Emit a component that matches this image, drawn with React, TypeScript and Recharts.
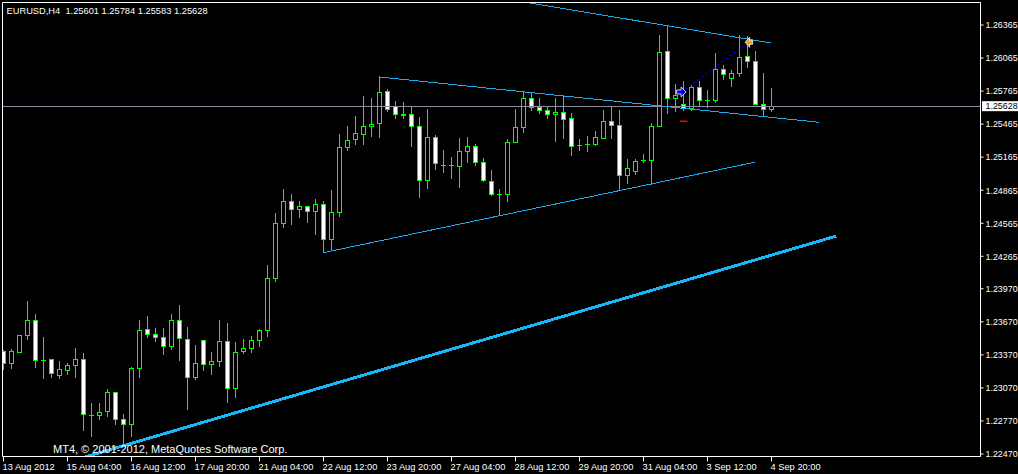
import React from 'react';
import {
  ComposedChart,
  Bar,
  XAxis,
  YAxis,
  ReferenceLine,
  ReferenceDot,
  ReferenceArea,
} from 'recharts';

const symbol = 'EURUSD';
const timeframe = 'H4';

const opens = [
  1.23399, 1.23294, 1.23396, 1.23544, 1.23684, 1.23321, 1.2333, 1.23181, 1.23226, 1.23272,
  1.2333, 1.22821, 1.22821, 1.22854, 1.2303, 1.22785, 1.22736, 1.23244, 1.23602, 1.23557,
  1.2353, 1.23444, 1.23684, 1.23511, 1.23163, 1.23502, 1.23281, 1.23308, 1.23493, 1.23063,
  1.23399, 1.23426, 1.23502, 1.23593, 1.24065, 1.24565, 1.24764, 1.24692, 1.24719, 1.2467,
  1.24737, 1.24416, 1.24665, 1.25257, 1.25327, 1.25373, 1.25445, 1.25473, 1.25763, 1.25623,
  1.25554, 1.25554, 1.25445, 1.24955, 1.25345, 1.25085, 1.25085, 1.25079, 1.25218, 1.25264,
  1.25119, 1.24946, 1.24828, 1.24824, 1.25296, 1.25433, 1.257, 1.25618, 1.25593, 1.25554,
  1.25572, 1.25512, 1.25269, 1.25278, 1.25278, 1.25339, 1.25493, 1.25454, 1.24997, 1.25033,
  1.25133, 1.25133, 1.25442, 1.26126, 1.25696, 1.25645, 1.25605, 1.25799, 1.25681, 1.25678,
  1.25963, 1.25878, 1.25927, 1.26081, 1.26036, 1.25645, 1.25601,
];

const highs = [
  1.23414, 1.23423, 1.23548, 1.2385, 1.23741, 1.23532, 1.2333, 1.23314, 1.23294, 1.23432,
  1.23378, 1.22924, 1.22924, 1.23051, 1.2303, 1.22824, 1.23257, 1.23678, 1.23714, 1.23605,
  1.23605, 1.23741, 1.23814, 1.23614, 1.23451, 1.23502, 1.23387, 1.23678, 1.23659, 1.23478,
  1.23505, 1.23541, 1.23596, 1.24177, 1.24649, 1.24867, 1.24822, 1.24767, 1.24719, 1.24785,
  1.24758, 1.24864, 1.25375, 1.25439, 1.2553, 1.2572, 1.25702, 1.25893, 1.25781, 1.25672,
  1.25657, 1.25627, 1.25521, 1.25602, 1.25364, 1.25228, 1.25158, 1.25336, 1.25345, 1.25282,
  1.25155, 1.25046, 1.24873, 1.25327, 1.25602, 1.25757, 1.2575, 1.25702, 1.25618, 1.25702,
  1.25727, 1.25563, 1.25321, 1.25357, 1.254, 1.25593, 1.25623, 1.25593, 1.25148, 1.25148,
  1.25191, 1.25475, 1.26274, 1.26356, 1.25827, 1.25848, 1.25818, 1.25848, 1.25766, 1.26102,
  1.25999, 1.2595, 1.26274, 1.26265, 1.2612, 1.25929, 1.25784,
];

const lows = [
  1.23233, 1.23242, 1.23387, 1.23514, 1.23251, 1.23151, 1.2316, 1.23151, 1.23196, 1.23169,
  1.22679, 1.22627, 1.22779, 1.22806, 1.22736, 1.22552, 1.22627, 1.2316, 1.23526, 1.2349,
  1.23372, 1.23423, 1.23317, 1.22872, 1.23142, 1.23226, 1.23196, 1.2326, 1.22933, 1.22987,
  1.23378, 1.23396, 1.23444, 1.23535, 1.24034, 1.24525, 1.24552, 1.24616, 1.2457, 1.24461,
  1.24298, 1.2432, 1.24625, 1.25224, 1.25278, 1.25278, 1.25357, 1.25348, 1.25578, 1.25514,
  1.25514, 1.2526, 1.24797, 1.24879, 1.25051, 1.25024, 1.2497, 1.24888, 1.25115, 1.25088,
  1.24942, 1.24815, 1.24637, 1.24761, 1.25294, 1.25387, 1.25593, 1.25563, 1.25514, 1.25303,
  1.25339, 1.25176, 1.2523, 1.25212, 1.25267, 1.25339, 1.25339, 1.24861, 1.24924, 1.25006,
  1.25115, 1.24921, 1.25442, 1.25563, 1.25578, 1.25587, 1.25593, 1.25623, 1.25612, 1.2566,
  1.25866, 1.25805, 1.25896, 1.25977, 1.25641, 1.25536, 1.25583,
];

const closes = [
  1.23294, 1.23405, 1.23548, 1.23684, 1.23321, 1.23321, 1.23199, 1.23233, 1.23275, 1.2333,
  1.22827, 1.22821, 1.22849, 1.2303, 1.22781, 1.22736, 1.23248, 1.23593, 1.23557, 1.23526,
  1.23444, 1.23684, 1.23517, 1.23163, 1.23294, 1.23284, 1.23312, 1.23493, 1.23063, 1.23393,
  1.2343, 1.23502, 1.23593, 1.24065, 1.24565, 1.24764, 1.24692, 1.24719, 1.2467, 1.24737,
  1.24416, 1.24665, 1.25257, 1.25318, 1.25382, 1.25445, 1.25464, 1.25754, 1.256, 1.25554,
  1.25545, 1.25445, 1.24955, 1.25345, 1.25109, 1.25085, 1.25085, 1.25218, 1.25264, 1.25119,
  1.24951, 1.24824, 1.24828, 1.253, 1.25436, 1.257, 1.25614, 1.25587, 1.25554, 1.25575,
  1.25505, 1.2526, 1.25269, 1.25278, 1.25345, 1.25493, 1.25454, 1.24997, 1.25058, 1.25128,
  1.25133, 1.25445, 1.26117, 1.25696, 1.25727, 1.25609, 1.25799, 1.25678, 1.25681, 1.25963,
  1.25916, 1.25927, 1.26072, 1.26032, 1.25641, 1.25596, 1.25628,
];

const xTickIndex = [0, 8, 16, 24, 32, 40, 48, 56, 64, 72, 80, 88, 96];
const xTickLabels = [
  '13 Aug 2012', '15 Aug 04:00', '16 Aug 12:00', '17 Aug 20:00', '21 Aug 04:00',
  '22 Aug 12:00', '23 Aug 20:00', '27 Aug 04:00', '28 Aug 12:00', '29 Aug 20:00',
  '31 Aug 04:00', '3 Sep 12:00', '4 Sep 20:00',
];
const yTicks = [
  1.26365, 1.26065, 1.25765, 1.25465, 1.25165, 1.24865, 1.24565,
  1.24265, 1.2397, 1.2367, 1.2337, 1.2307, 1.2277, 1.2247,
];

// visible window (bar index / price)
const xDomain = [-0.125, 122.125];
const yDomain = [1.224472, 1.265693];

const bidPrice = 1.25628;

// drawn objects, in bar index / price
const channelTop = [{ x: 65.8, y: 1.26565 }, { x: 95.9, y: 1.26202 }];
const triangleUpper = [{ x: 47, y: 1.25893 }, { x: 101.9, y: 1.25482 }];
const triangleLower = [{ x: 40, y: 1.24298 }, { x: 93.9, y: 1.25119 }];
const supportLine = [{ x: 10.2, y: 1.22443 }, { x: 104.1, y: 1.24449 }];
const tradePath = [{ x: 85.3, y: 1.25782 }, { x: 92.8, y: 1.26195 }];
const tradeOpen = { x: 84.7, y: 1.25757 };
const tradeClose = { x: 93.2, y: 1.26208 };
const stopMark = [{ x: 84.56, y: 1.25492 }, { x: 85.5, y: 1.25492 }];

const data = opens.map((o, i) => ({
  i,
  open: o,
  high: highs[i],
  low: lows[i],
  close: closes[i],
  range: [lows[i], highs[i]],
}));

const FONT = '"Liberation Sans", Arial, sans-serif';
const GREEN = '#00ff00';
const AXIS_FONT = 8.9;

function Candle(props: any) {
  const { x, y, width, height, payload } = props;
  if (!payload || x == null || y == null) return null;
  const { open, close, high, low } = payload;
  const top = Math.min(y, y + height);
  const h = Math.abs(height);
  const k = high - low > 0 ? h / (high - low) : 0;
  const py = (p: number) => top + (high - p) * k;
  const snap = (v: number) => Math.floor(v) + 0.5;
  const cx = snap(x + width / 2);
  const yH = snap(py(high));
  const yL = snap(py(low));
  const yO = snap(py(open));
  const yC = snap(py(close));
  const bTop = Math.min(yO, yC);
  const bBot = Math.max(yO, yC);
  const bull = close > open;
  return (
    <g shapeRendering="crispEdges">
      <line x1={cx} x2={cx} y1={yH - 0.5} y2={yL + 0.5} stroke={GREEN} strokeWidth={1} />
      {bBot - bTop < 0.5 ? (
        <line x1={cx - 2.5} x2={cx + 2.5} y1={bTop} y2={bTop} stroke={GREEN} strokeWidth={1} />
      ) : (
        <rect
          x={cx - 2}
          y={bTop}
          width={4}
          height={bBot - bTop}
          fill={bull ? '#000000' : '#ffffff'}
          stroke={GREEN}
          strokeWidth={1}
        />
      )}
    </g>
  );
}

function XTick(props: any) {
  const { x, y, payload } = props;
  const idx = xTickIndex.indexOf(payload.value);
  const label = idx >= 0 ? xTickLabels[idx] : '';
  return (
    <text x={x - 1} y={y + 8} fill="#ffffff" fontSize={9.3} fontFamily={FONT} textAnchor="start">
      {label}
    </text>
  );
}

function YTick(props: any) {
  const { x, y, payload } = props;
  return (
    <text x={x} y={y + 3.3} fill="#ffffff" fontSize={AXIS_FONT} fontFamily={FONT} textAnchor="start">
      {Number(payload.value).toFixed(5)}
    </text>
  );
}

function BuyArrow(props: any) {
  const { cx, cy } = props;
  const pts = [
    [-4.5, -2], [0, -2], [0, -5], [5, 0], [0, 5], [0, 2], [-4.5, 2],
  ]
    .map(([a, b]) => `${cx + a},${cy + b}`)
    .join(' ');
  return <polygon points={pts} fill="#0000ff" stroke="#ffffff" strokeWidth={0.8} />;
}

function CloseArrow(props: any) {
  const { cx, cy } = props;
  const pts = [
    [3.5, -2], [0.5, -2], [0.5, -5], [-4, 0], [0.5, 5], [0.5, 2], [3.5, 2],
  ]
    .map(([a, b]) => `${cx + a},${cy + b}`)
    .join(' ');
  return <polygon points={pts} fill="#f0a030" stroke="#ffffff" strokeWidth={0.8} />;
}

function PriceLabel(props: any) {
  const vb = props.viewBox || {};
  const x = (vb.x || 0) + (vb.width || 0);
  const y = vb.y || 0;
  return (
    <g>
      <rect x={x + 1.5} y={y - 5} width={40} height={10} fill="#ffffff" />
      <text x={x + 5} y={y + 3.3} fill="#000000" fontSize={AXIS_FONT} fontFamily={FONT}>
        {bidPrice.toFixed(5)}
      </text>
    </g>
  );
}

export default function App() {
  const last = data[data.length - 1];
  const header = `${symbol},${timeframe}  ${last.open.toFixed(5)} ${last.high.toFixed(5)} ${last.low.toFixed(5)} ${last.close.toFixed(5)}`;
  return (
    <div
      style={{
        position: 'absolute',
        left: 0,
        top: 0,
        width: 1018,
        height: 474,
        background: '#000000',
        overflow: 'hidden',
      }}
    >
      <ComposedChart
        width={1018}
        height={474}
        data={data}
        margin={{ top: 2.5, left: 2.5, right: 0, bottom: 0 }}
      >
        <XAxis
          dataKey="i"
          type="number"
          domain={xDomain}
          allowDataOverflow
          ticks={xTickIndex}
          interval={0}
          height={17.5}
          axisLine={{ stroke: '#ffffff' }}
          tickLine={{ stroke: '#ffffff' }}
          tickSize={5}
          tickMargin={0}
          tick={<XTick />}
        />
        <YAxis
          orientation="right"
          type="number"
          domain={yDomain}
          allowDataOverflow
          ticks={yTicks}
          interval={0}
          width={37.5}
          axisLine={{ stroke: '#ffffff' }}
          tickLine={{ stroke: '#ffffff' }}
          tickSize={3}
          tickMargin={2}
          tick={<YTick />}
        />
        <ReferenceArea
          x1={xDomain[0]}
          x2={xDomain[1]}
          y1={yDomain[0]}
          y2={yDomain[1]}
          fill="none"
          fillOpacity={0}
          stroke="#ffffff"
          strokeWidth={1}
          ifOverflow="visible"
        />
        <Bar dataKey="range" barSize={5} isAnimationActive={false} shape={<Candle />} />
        <ReferenceLine
          y={bidPrice}
          stroke="#8b8ba3"
          strokeWidth={1}
          shapeRendering="crispEdges"
          label={<PriceLabel />}
        />
        <ReferenceLine segment={supportLine} stroke="#18b8f8" strokeWidth={3} ifOverflow="hidden" shapeRendering="crispEdges" />
        <ReferenceLine segment={triangleUpper} stroke="#20a8ee" strokeWidth={1} ifOverflow="hidden" shapeRendering="crispEdges" />
        <ReferenceLine segment={triangleLower} stroke="#20a8ee" strokeWidth={1} ifOverflow="hidden" shapeRendering="crispEdges" />
        <ReferenceLine segment={channelTop} stroke="#20a8ee" strokeWidth={1} ifOverflow="hidden" shapeRendering="crispEdges" />
        <ReferenceLine segment={tradePath} stroke="#0000ff" strokeWidth={1.2} strokeDasharray="2 3" ifOverflow="hidden" />
        <ReferenceLine segment={stopMark} stroke="#ff0000" strokeWidth={1.5} ifOverflow="hidden" />
        <ReferenceDot x={tradeOpen.x} y={tradeOpen.y} r={5} shape={<BuyArrow />} />
        <ReferenceDot x={tradeClose.x} y={tradeClose.y} r={5} shape={<CloseArrow />} />
      </ComposedChart>
      <svg
        width={1018}
        height={474}
        style={{ position: 'absolute', left: 0, top: 0, pointerEvents: 'none' }}
      >
        <text x={6.5} y={14} fill="#ffffff" fontSize={9.3} fontFamily={FONT} style={{ whiteSpace: 'pre' }}>
          {header}
        </text>
        <text x={53} y={453} fill="#ffffff" fontSize={11} fontFamily={FONT}>
          MT4, © 2001-2012, MetaQuotes Software Corp.
        </text>
      </svg>
    </div>
  );
}
